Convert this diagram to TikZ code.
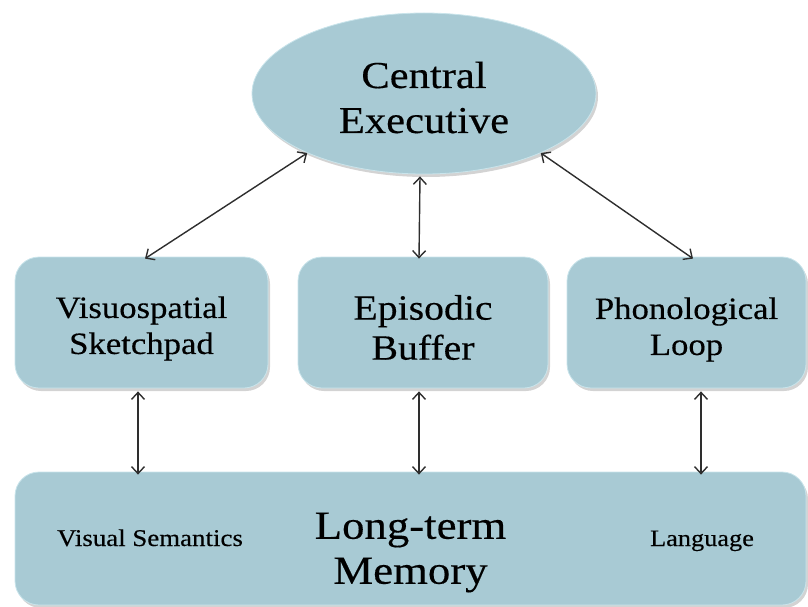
\documentclass[tikz,border=0pt]{standalone}
\usepackage{fontspec}
\setmainfont{Liberation Serif}[FakeStretch=1.12,FakeBold=0.35]
\usetikzlibrary{arrows.meta,shapes.geometric,shadows}
\definecolor{boxfill}{HTML}{A8CAD4}
\definecolor{boxrim}{HTML}{C9E4EB}
\definecolor{arrowgray}{HTML}{2E2E2E}
\tikzset{
  blob/.style={fill=boxfill, draw=boxrim, line width=0.8pt,
    drop shadow={shadow xshift=2pt, shadow yshift=-3pt, opacity=0.35, fill=gray}},
  panel/.style={blob, rectangle, rounded corners=24pt, inner sep=0pt},
  oval/.style={blob, ellipse, inner sep=0pt},
  caption/.style={align=center, inner sep=0pt},
  link/.style={draw=arrowgray, line width=1.4pt,
    {Straight Barb[length=7pt,width=13pt]}-{Straight Barb[length=7pt,width=13pt]}},
  small/.style={anchor=base}
}
\begin{document}
\begin{tikzpicture}[x=1pt,y=-1pt]
\useasboundingbox (0,0) rectangle (808,607);
\node[oval, minimum width=344pt, minimum height=161pt] (ce) at (424,93.5) {};
\node[panel, minimum width=253pt, minimum height=131pt] (vs) at (141.5,322.5) {};
\node[panel, minimum width=250pt, minimum height=131pt] (eb) at (423,322.5) {};
\node[panel, minimum width=239pt, minimum height=131pt] (pl) at (686.5,322.5) {};
\node[panel, minimum width=791pt, minimum height=133pt] (ltm) at (410.5,538.5) {};
\node[caption, font=\fontsize{38}{45}\selectfont] (cet) at ([yshift=-4pt]ce.center) {Central\\Executive};
\node[caption, font=\fontsize{31}{36}\selectfont] (vst) at ([yshift=-6pt]vs.center) {Visuospatial\\Sketchpad};
\node[caption, font=\fontsize{35.5}{40}\selectfont] (ebt) at ([yshift=-5pt]eb.center) {Episodic\\Buffer};
\node[caption, font=\fontsize{31}{36}\selectfont] (plt) at ([yshift=-7pt]pl.center) {Phonological\\Loop};
\node[caption, font=\fontsize{40}{45}\selectfont] (ltmt) at ([yshift=-14pt]ltm.center) {Long-term\\Memory};
\node[small, font=\fontsize{24}{28}\selectfont] (vsem) at (150,546) {Visual Semantics};
\node[small, font=\fontsize{23.5}{28}\selectfont] (lang) at (702,546) {Language};
\draw[link] (ce.207) -- ([xshift=3.5pt,yshift=-2pt]vs.north);
\draw[link] (ce.333) -- ([xshift=6.5pt,yshift=-2pt]pl.north);
\draw[link] ([xshift=-4pt,yshift=-2pt]ce.south) -- ([xshift=-4pt,yshift=-2pt]eb.north);
\draw[link] ([xshift=-3.5pt,yshift=-3pt]vs.south) -- ([xshift=-3.5pt,yshift=-3pt]vs.south |- ltm.north);
\draw[link] ([xshift=-4pt,yshift=-3pt]eb.south) -- ([xshift=-4pt,yshift=-3pt]eb.south |- ltm.north);
\draw[link] ([xshift=14.5pt,yshift=-3pt]pl.south) -- ([xshift=14.5pt,yshift=-3pt]pl.south |- ltm.north);
\end{tikzpicture}
\end{document}
